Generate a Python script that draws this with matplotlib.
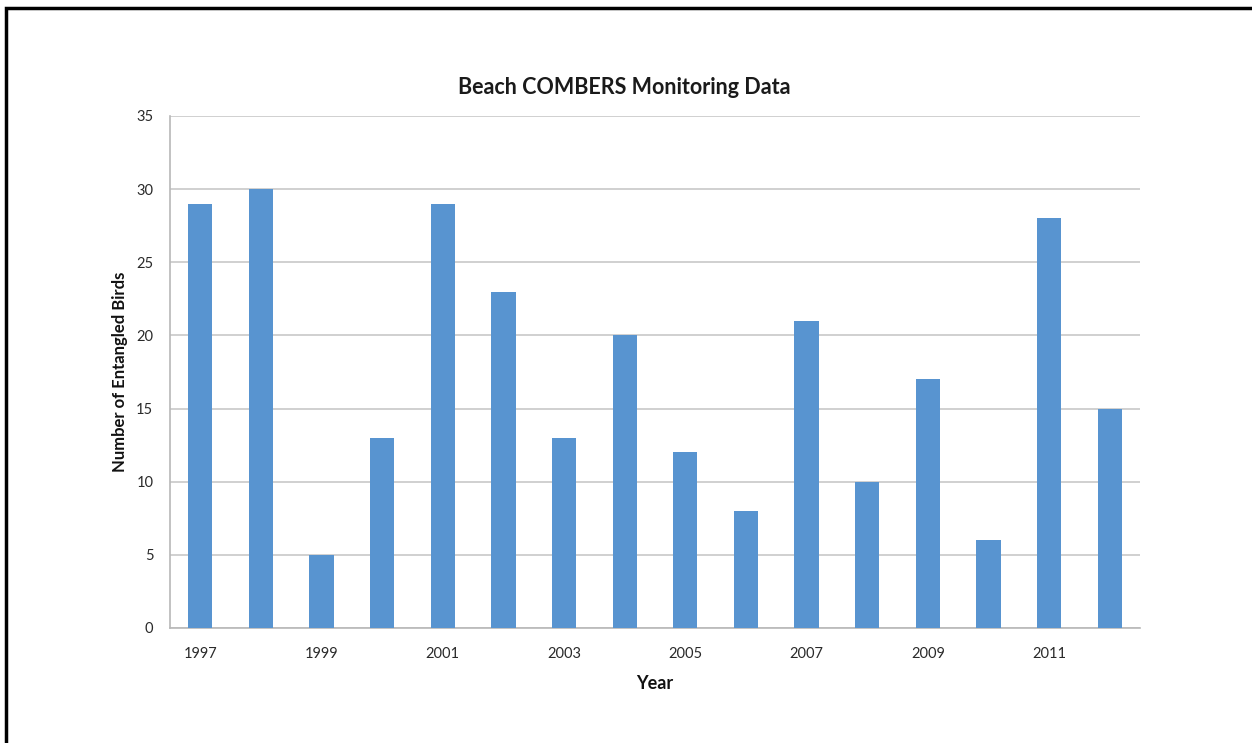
import matplotlib.pyplot as plt
from matplotlib.patches import Rectangle

years = list(range(1997, 2013))
birds = [29, 30, 5, 13, 29, 23, 13, 20, 12, 8, 21, 10, 17, 6, 28, 15]
tick_years = [1997, 1999, 2001, 2003, 2005, 2007, 2009, 2011]

plt.rcParams['font.family'] = ['Lato', 'DejaVu Sans']

fig = plt.figure(figsize=(12.52, 7.43), dpi=100)
ax = fig.add_axes([0.1358, 0.1548, 0.7747, 0.6891])

# frame around the figure (only left/top visible in the reference)
fig.patches.append(Rectangle((6 / 1252, -0.2), 1.5, 1 - 8 / 743 + 0.2,
                             transform=fig.transFigure, fill=False,
                             edgecolor='black', linewidth=2.5, clip_on=True))

ax.bar(years, birds, width=0.4, color='#5894D0', zorder=3)

ax.set_xlim(1996.5, 2012.5)
ax.set_ylim(0, 35)
ax.set_yticks(range(0, 36, 5))
ax.set_xticks(tick_years)
ax.grid(axis='y', color='#c8c8c8', linewidth=1.2, zorder=0)

for s in ['top', 'right']:
    ax.spines[s].set_visible(False)
for s in ['left', 'bottom']:
    ax.spines[s].set_color('#b8b8b8')
    ax.spines[s].set_linewidth(1.2)

ax.tick_params(length=0, labelsize=10.5, colors='#2a2a2a')
ax.tick_params(axis='y', pad=12)
ax.tick_params(axis='x', pad=14)

ax.set_xlabel('Year', fontsize=13, fontweight='bold', labelpad=10, color='#111111')
ax.set_ylabel('Number of Entangled Birds', fontsize=12, fontweight='bold',
              labelpad=6, color='#111111')

fig.text(624 / 1252, 1 - 87 / 743, 'Beach COMBERS Monitoring Data',
         ha='center', va='center', fontsize=15.5, fontweight='bold', color='#1a1a1a')

fig.savefig('out.png', dpi=100)
